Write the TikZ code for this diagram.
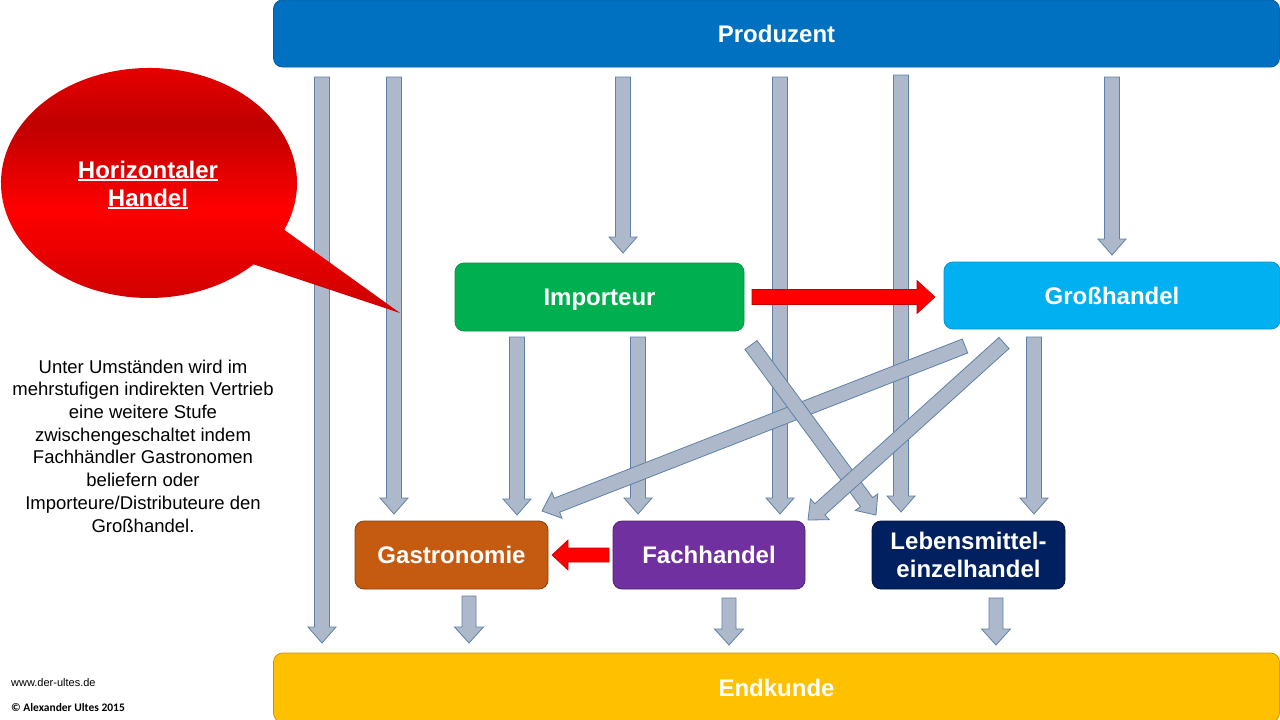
\documentclass[tikz,border=0pt]{standalone}
\usepackage{fontspec}
\setmainfont{Liberation Sans}
\newfontfamily\carlito{Carlito}
\usetikzlibrary{calc}
\definecolor{prodblue}{HTML}{0070C0}
\definecolor{impgreen}{HTML}{00B050}
\definecolor{grossblue}{HTML}{00B0F0}
\definecolor{gastrocol}{HTML}{C55A11}
\definecolor{fachcol}{HTML}{7030A0}
\definecolor{lebenscol}{HTML}{002060}
\definecolor{endkcol}{HTML}{FFC000}
\definecolor{arrowfill}{HTML}{ADB9CA}
\definecolor{arrowline}{HTML}{5E81A8}
\definecolor{ctop}{HTML}{F00000}
\definecolor{cdark}{HTML}{C00000}
\definecolor{cbright}{HTML}{FF0000}
\definecolor{cbot}{HTML}{D20000}
\pgfdeclareverticalshading{calloutshade}{100bp}{color(0bp)=(cbot); color(28bp)=(cbot); color(45bp)=(cbright); color(61bp)=(cdark); color(75bp)=(ctop); color(100bp)=(ctop)}
\newcommand\ulin[1]{\setbox0\hbox{#1}\rlap{\rule[-3pt]{\wd0}{1.8pt}}\box0}
% block arrow: style, start, end, half shaft, half head, head length
\newcommand\blockarr[6]{%
\draw[#1] ($(#2)!#4!90:(#3)$) -- ($(#3)!#6!(#2)!#4!-90:(#2)$) -- ($(#3)!#6!(#2)!#5!-90:(#2)$) -- (#3) -- ($(#3)!#6!(#2)!#5!90:(#2)$) -- ($(#3)!#6!(#2)!#4!90:(#2)$) -- ($(#2)!#4!-90:(#3)$) -- cycle;}
\tikzset{
  box/.style={rounded corners=9pt, text=white, font=\bfseries\fontsize{24}{28}\selectfont, align=center, inner sep=0pt, line width=0.8pt},
  greyarr/.style={fill=arrowfill, draw=arrowline, line width=0.8pt, line join=miter},
  redarr/.style={fill=red, draw=red!75!black, line width=0.6pt},
}
\begin{document}
\begin{tikzpicture}[x=1pt,y=-1pt]
\useasboundingbox (0,0) rectangle (1280,720);
\fill[white] (0,0) rectangle (1280,720);
% nodes
\node[box, fill=prodblue, draw=prodblue!85!black, minimum width=1006pt, minimum height=67pt] (prod) at (776.5,33.5) {Produzent};
\node[box, fill=impgreen, draw=impgreen!85!black, minimum width=289pt, minimum height=68pt, text depth=0pt] (imp) at (599.5,297) {Importeur};
\node[box, fill=grossblue, draw=grossblue!85!black, minimum width=336pt, minimum height=67pt] (gross) at (1112,295.5) {Großhandel};
\node[box, fill=gastrocol, draw=gastrocol!70!black, minimum width=193pt, minimum height=68pt] (gastro) at (451.5,555) {Gastronomie};
\node[box, fill=fachcol, draw=fachcol!70!black, minimum width=192pt, minimum height=68pt] (fach) at (709,555) {Fachhandel};
\node[box, fill=lebenscol, draw=lebenscol!70!black, minimum width=193pt, minimum height=68pt] (lebens) at (968.5,555) {Lebensmittel-\\einzelhandel};
\node[box, fill=endkcol, draw=endkcol!80!black, minimum width=1006pt, minimum height=69pt] (endk) at (776.5,687.5) {Endkunde};
% arrow end points
\coordinate (v1s) at (322,77);   \coordinate (v1e) at (322,643);
\coordinate (v2s) at (394,77);   \coordinate (v2e) at (394,514);
\coordinate (v3s) at (623,77);   \coordinate (v3e) at (623,253);
\coordinate (v4s) at (780,77);   \coordinate (v4e) at (780,514);
\coordinate (v5s) at (901,75);   \coordinate (v5e) at (901,512);
\coordinate (v6s) at (1112,77);  \coordinate (v6e) at (1112,255);
\coordinate (v7s) at (517,337);  \coordinate (v7e) at (517,515);
\coordinate (v8s) at (638,337);  \coordinate (v8e) at (638,514);
\coordinate (v9s) at (1034,337); \coordinate (v9e) at (1034,514);
\coordinate (d1s) at (751,345);  \coordinate (d1e) at (876,515);
\coordinate (d2s) at (965,346);  \coordinate (d2e) at (542,511);
\coordinate (d3s) at (1004,343); \coordinate (d3e) at (808,520);
\coordinate (e1s) at (469,596);  \coordinate (e1e) at (469,643);
\coordinate (e2s) at (729,598);  \coordinate (e2e) at (729,645);
\coordinate (e3s) at (996,598);  \coordinate (e3e) at (996,645);
\coordinate (r1s) at (752,297);  \coordinate (r1e) at (935,297);
\coordinate (r2s) at (609,555);  \coordinate (r2e) at (552,555);
% grey arrows
\blockarr{greyarr}{v1s}{v1e}{7.5pt}{14pt}{16pt}
\blockarr{greyarr}{v2s}{v2e}{7.5pt}{14pt}{16pt}
\blockarr{greyarr}{v3s}{v3e}{7.5pt}{14pt}{16pt}
\blockarr{greyarr}{v4s}{v4e}{7.5pt}{14pt}{16pt}
\blockarr{greyarr}{v5s}{v5e}{7.5pt}{14pt}{16pt}
\blockarr{greyarr}{v6s}{v6e}{7.5pt}{14pt}{16pt}
\blockarr{greyarr}{v7s}{v7e}{7.5pt}{14pt}{16pt}
\blockarr{greyarr}{v8s}{v8e}{7.5pt}{14pt}{16pt}
\blockarr{greyarr}{v9s}{v9e}{7.5pt}{14pt}{16pt}
\blockarr{greyarr}{d2s}{d2e}{7.5pt}{14pt}{16pt}
\blockarr{greyarr}{d1s}{d1e}{7.5pt}{14pt}{16pt}
\blockarr{greyarr}{d3s}{d3e}{7.5pt}{14pt}{16pt}
\blockarr{greyarr}{e1s}{e1e}{7pt}{14.5pt}{16pt}
\blockarr{greyarr}{e2s}{e2e}{7pt}{14.5pt}{16pt}
\blockarr{greyarr}{e3s}{e3e}{7pt}{14.5pt}{16pt}
% red arrows
\blockarr{redarr}{r1s}{r1e}{7.5pt}{16.5pt}{18pt}
\blockarr{redarr}{r2s}{r2e}{7pt}{15pt}{16pt}
% callout
\coordinate (cc) at (149,183);
\coordinate (ctip) at (400,313);
\shade[shading=calloutshade] (cc) ++(-24:148pt and 115pt) arc[start angle=-24, end angle=315, x radius=148pt, y radius=115pt] -- (ctip) -- cycle;
\node[text=white, font=\bfseries\fontsize{24}{28}\selectfont, align=center, inner sep=0pt] (ctext) at (148,185) {\ulin{Horizontaler}\\\ulin{Handel}};
% explanatory text
\node[font=\fontsize{18.5}{22.7}\selectfont, align=center, inner sep=0pt] (expl) at (143,446) {Unter Umständen wird im\\mehrstufigen indirekten Vertrieb\\eine weitere Stufe\\zwischengeschaltet indem\\Fachhändler Gastronomen\\beliefern oder\\Importeure/Distributeure den\\Großhandel.};
% footer
\node[anchor=base west, font=\fontsize{11}{13}\selectfont, inner sep=0pt] (web) at (11,686) {www.der-ultes.de};
\node[anchor=base west, font=\carlito\bfseries\fontsize{11.5}{13}\selectfont, inner sep=0pt] (copy) at (11,711) {© Alexander Ultes 2015};
\end{tikzpicture}
\end{document}
